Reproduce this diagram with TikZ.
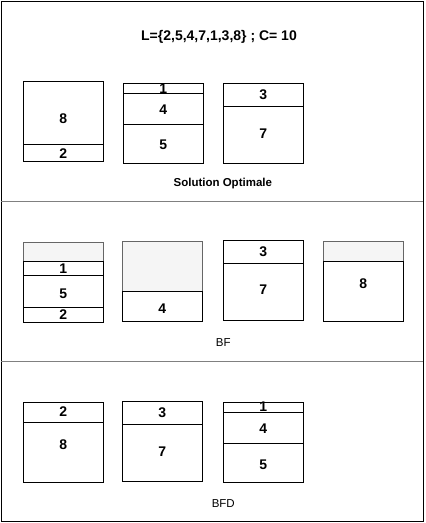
\documentclass[tikz,border=0pt]{standalone}
\usepackage{fontspec}
\setmainfont{Liberation Sans}
\definecolor{emptyfill}{HTML}{F5F5F5}
\definecolor{emptyline}{HTML}{666666}
\definecolor{sepline}{HTML}{808080}
\tikzset{
  cellbox/.style={draw=black, line width=1pt, fill=white, minimum width=80pt, inner sep=0pt, outer sep=0pt},
  emptybox/.style={cellbox, draw=emptyline, fill=emptyfill},
  lab/.style={font=\bfseries\fontsize{14}{16}\selectfont, inner sep=0pt},
  caption/.style={font=\fontsize{11.5}{13}\selectfont, inner sep=0pt},
  framebox/.style={draw=black, line width=1pt},
}
\newcommand\cell[5][]{%
  \pgfmathsetmacro\cellcy{(#4+#5)/2}%
  \pgfmathsetmacro\cellh{#5-#4}%
  \node[cellbox,#1,minimum height=\cellh pt] (#2) at ({#3+40},\cellcy) {};}
\begin{document}
\begin{tikzpicture}[x=1pt,y=-1pt]
\useasboundingbox (0,0) rectangle (426,523);
\node[framebox, minimum width=422pt, minimum height=520pt, inner sep=0pt] (frame) at (212,261) {};
\coordinate (s1l) at (1,201);
\coordinate (s1r) at (423,201);
\coordinate (s2l) at (1,361);
\coordinate (s2r) at (423,361);
\draw[sepline, line width=1pt] (s1l) -- (s1r);
\draw[sepline, line width=1pt] (s2l) -- (s2r);

% Title
\node[font=\bfseries\fontsize{14}{16}\selectfont, inner sep=0pt] (title) at (219,37) {L=\{2,5,4,7,1,3,8\} ; C= 10};

% Section 1: Solution Optimale
\cell{oa1}{23.3}{81.3}{144.3}
\cell{oa2}{23.3}{144.3}{161.7}
\node[lab] (loa1) at (63.3,119) {8};
\node[lab] (loa2) at (63.3,154) {2};
\cell{ob1}{123.3}{83.3}{93.3}
\cell{ob2}{123.3}{93.3}{124.3}
\cell{ob3}{123.3}{124.3}{163.3}
\node[lab] (lob1) at (163.3,88.6) {1};
\node[lab] (lob2) at (163.3,109.7) {4};
\node[lab] (lob3) at (163.3,144.3) {5};
\cell{oc1}{223.3}{83.3}{106.7}
\cell{oc2}{223.3}{106.7}{163.3}
\node[lab] (loc1) at (263.3,95) {3};
\node[lab] (loc2) at (263.3,133.3) {7};
\node[caption, font=\bfseries\fontsize{11.5}{13}\selectfont] (cap1) at (222.8,183.3) {Solution Optimale};

% Section 2: BF
\cell[emptybox]{fa0}{23.3}{242.3}{261.7}
\cell{fa1}{23.3}{261.7}{275.3}
\cell{fa2}{23.3}{275.3}{307.3}
\cell{fa3}{23.3}{307.3}{322.3}
\node[lab] (lfa1) at (63.3,269) {1};
\node[lab] (lfa2) at (63.3,294) {5};
\node[lab] (lfa3) at (63.3,315) {2};
\cell[emptybox]{fb0}{122.3}{241.3}{291.7}
\cell{fb1}{122.3}{291.7}{321.3}
\node[lab] (lfb1) at (162.3,308.3) {4};
\cell{fc1}{223.3}{240.3}{263.3}
\cell{fc2}{223.3}{263.3}{320.3}
\node[lab] (lfc1) at (263.3,251.7) {3};
\node[lab] (lfc2) at (263.3,290) {7};
\cell[emptybox]{fd0}{323.3}{241.3}{261.7}
\cell{fd1}{323.3}{261.7}{321.3}
\node[lab] (lfd1) at (363.3,283.3) {8};
\node[caption] (cap2) at (223.3,342.7) {BF};

% Section 3: BFD
\cell{da1}{23.3}{402.3}{422.3}
\cell{da2}{23.3}{422.3}{482.3}
\node[lab] (lda1) at (63.3,411.7) {2};
\node[lab] (lda2) at (63.3,445) {8};
\cell{db1}{122.3}{401.3}{424.3}
\cell{db2}{122.3}{424.3}{481.3}
\node[lab] (ldb1) at (162.3,412.3) {3};
\node[lab] (ldb2) at (162.3,451.7) {7};
\cell{dc1}{223.3}{402.3}{412.3}
\cell{dc2}{223.3}{412.3}{443.7}
\cell{dc3}{223.3}{443.7}{482.3}
\node[lab] (ldc1) at (263.3,407) {1};
\node[lab] (ldc2) at (263.3,429) {4};
\node[lab] (ldc3) at (263.3,464.3) {5};
\node[caption] (cap3) at (223.3,503.3) {BFD};
\end{tikzpicture}
\end{document}
